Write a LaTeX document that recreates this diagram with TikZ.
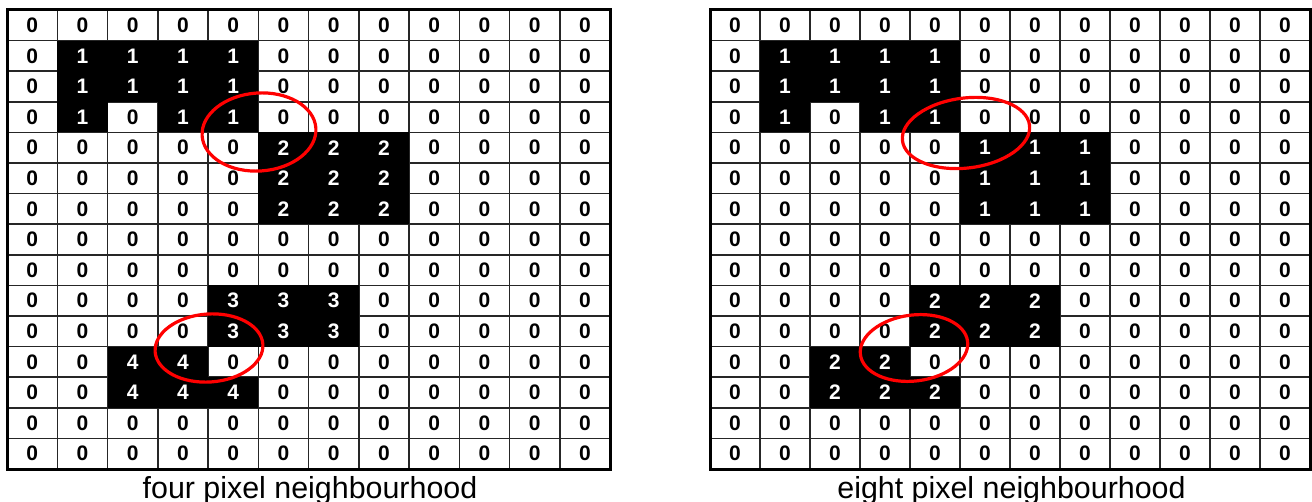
\documentclass[tikz,border=0pt]{standalone}
\usepackage{fontspec}
\setmainfont{Liberation Sans}

\begin{document}
\begin{tikzpicture}[x=1pt, y=-1pt,
  cell/.style={inner sep=0pt, minimum width=\cw*1pt, minimum height=\rh*1pt,
    font=\bfseries\fontsize{21}{21}\selectfont},
  on/.style={cell, fill=black, text=white},
  off/.style={cell, text=black},
  gridline/.style={draw=black!85, line width=1.5pt},
  frame/.style={draw=black, line width=3pt},
  ring/.style={draw=red, line width=3.2pt},
  caption/.style={anchor=base, inner sep=0pt, font=\fontsize{30.4}{30.4}\selectfont}]

  \path[use as bounding box, fill=white] (0,0) rectangle (1312,502);

  \pgfmathsetmacro{\rh}{30.6}
  \def\oy{10}

  % labelled images, one row per list
  \def\gridL{{0,0,0,0,0,0,0,0,0,0,0,0},{0,1,1,1,1,0,0,0,0,0,0,0},{0,1,1,1,1,0,0,0,0,0,0,0},
    {0,1,0,1,1,0,0,0,0,0,0,0},{0,0,0,0,0,2,2,2,0,0,0,0},{0,0,0,0,0,2,2,2,0,0,0,0},
    {0,0,0,0,0,2,2,2,0,0,0,0},{0,0,0,0,0,0,0,0,0,0,0,0},{0,0,0,0,0,0,0,0,0,0,0,0},
    {0,0,0,0,3,3,3,0,0,0,0,0},{0,0,0,0,3,3,3,0,0,0,0,0},{0,0,4,4,0,0,0,0,0,0,0,0},
    {0,0,4,4,4,0,0,0,0,0,0,0},{0,0,0,0,0,0,0,0,0,0,0,0},{0,0,0,0,0,0,0,0,0,0,0,0}}
  \def\gridR{{0,0,0,0,0,0,0,0,0,0,0,0},{0,1,1,1,1,0,0,0,0,0,0,0},{0,1,1,1,1,0,0,0,0,0,0,0},
    {0,1,0,1,1,0,0,0,0,0,0,0},{0,0,0,0,0,1,1,1,0,0,0,0},{0,0,0,0,0,1,1,1,0,0,0,0},
    {0,0,0,0,0,1,1,1,0,0,0,0},{0,0,0,0,0,0,0,0,0,0,0,0},{0,0,0,0,0,0,0,0,0,0,0,0},
    {0,0,0,0,2,2,2,0,0,0,0,0},{0,0,0,0,2,2,2,0,0,0,0,0},{0,0,2,2,0,0,0,0,0,0,0,0},
    {0,0,2,2,2,0,0,0,0,0,0,0},{0,0,0,0,0,0,0,0,0,0,0,0},{0,0,0,0,0,0,0,0,0,0,0,0}}

  \foreach \g/\ox/\cw/\cap in {L/7/50.25/four pixel neighbourhood,
                               R/710/50/eight pixel neighbourhood} {
    \expandafter\let\expandafter\rows\csname grid\g\endcsname

    % grid lines
    \foreach \i in {1,...,11}
      \draw[gridline] ({\ox+\i*\cw},\oy) -- ({\ox+\i*\cw},{\oy+15*\rh});
    \foreach \j in {1,...,14}
      \draw[gridline] (\ox,{\oy+\j*\rh}) -- ({\ox+12*\cw},{\oy+\j*\rh});

    % pixels
    \foreach \vals [count=\r from 0] in \rows {
      \foreach \v [count=\c from 0] in \vals {
        \ifnum\v>0 \def\kind{on}\else\def\kind{off}\fi
        \node[\kind] (\g-\r-\c) at ({\ox+(\c+0.5)*\cw},{\oy+(\r+0.5)*\rh}) {\v};
      }
    }

    % border and caption
    \draw[frame] (\ox,\oy) rectangle ({\ox+12*\cw},{\oy+15*\rh});
    \node[caption] (\g-cap) at ({\ox+6*\cw+1.5},498) {\cap};
  }

  % neighbourhood rings
  \draw[ring, rotate around={4:(259,132)}] (259,132) ellipse[x radius=57pt, y radius=39pt];
  \draw[ring, rotate around={4:(209,348)}] (209,348) ellipse[x radius=54pt, y radius=34pt];
  \draw[ring, rotate around={7:(966,133)}] (966,133) ellipse[x radius=64pt, y radius=35pt];
  \draw[ring, rotate around={7:(914,348)}] (914,348) ellipse[x radius=54pt, y radius=33pt];
\end{tikzpicture}
\end{document}
